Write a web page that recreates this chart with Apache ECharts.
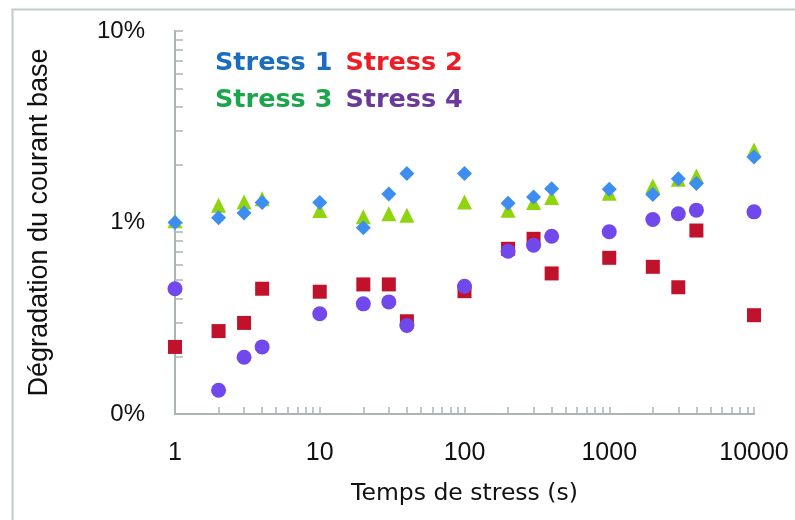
<!DOCTYPE html>
<html>
<head>
<meta charset="utf-8">
<script src="https://cdn.jsdelivr.net/npm/echarts@6/dist/echarts.min.js"></script>
<style>html,body{margin:0;padding:0;background:#fff}#c{width:795px;height:520px}</style>
</head>
<body>
<div id="c"></div>
<script>
const times = [1, 2, 3, 4, 10, 20, 30, 40, 100, 200, 300, 400, 1000, 2000, 3000, 4000, 10000];
const stress1 = [1.00, 1.06, 1.12, 1.27, 1.27, 0.94, 1.41, 1.80, 1.80, 1.26, 1.36, 1.50, 1.49, 1.40, 1.69, 1.60, 2.20];
const stress2 = [0.224, 0.271, 0.299, 0.451, 0.435, 0.475, 0.475, 0.305, 0.438, 0.729, 0.822, 0.542, 0.654, 0.587, 0.459, 0.908, 0.328];
const stress3 = [1.02, 1.23, 1.28, 1.33, 1.155, 1.07, 1.11, 1.09, 1.28, 1.16, 1.27, 1.35, 1.42, 1.55, 1.68, 1.75, 2.39];
const stress4 = [0.451, 0.133, 0.198, 0.224, 0.334, 0.376, 0.385, 0.290, 0.465, 0.708, 0.761, 0.848, 0.894, 1.037, 1.11, 1.16, 1.137];
const seriesNames = ['Stress 1', 'Stress 2', 'Stress 3', 'Stress 4'];
const yTickLabels = {'0.1': '0%', '1': '1%', '10': '10%'};
const xTitle = 'Temps de stress (s)';
const yTitle = 'Dégradation du courant base';

const xMinor = [];
for (let d = 1; d < 10000; d *= 10) for (let k = 1; k < 10; k++) xMinor.push(d * k);
xMinor.push(10000);
const yMinor = [];
for (let d = 0.1; d < 9; d *= 10) for (let k = 1; k < 10; k++) yMinor.push(+(d * k).toFixed(3));
yMinor.push(10);

const pair = arr => times.map((t, i) => [t, arr[i]]);
const axisCol = '#aab6b6';
const font = 'Liberation Sans, Arial, sans-serif';
const legFont = 'DejaVu Sans, sans-serif';

const chart = echarts.init(document.getElementById('c'), null, {renderer: 'canvas'});
chart.setOption({
  animation: false,
  backgroundColor: '#fff',
  graphic: [{
    type: 'rect', left: 10, top: 7, shape: {width: 820, height: 540},
    style: {fill: 'none', stroke: '#c3cbcb', lineWidth: 2}, silent: true, z: -1
  }],
  grid: {left: 175, right: 41, top: 31, bottom: 106},
  legend: [
    {left: 205, top: 45, icon: 'none', itemWidth: 0, itemGap: 8, selectedMode: false,
     textStyle: {fontSize: 25.5, fontWeight: 'bold', fontFamily: legFont},
     data: [{name: seriesNames[0], textStyle: {color: '#1b6dbf'}}, {name: seriesNames[1], textStyle: {color: '#ee1d25'}}]},
    {left: 205, top: 82, icon: 'none', itemWidth: 0, itemGap: 8, selectedMode: false,
     textStyle: {fontSize: 25.5, fontWeight: 'bold', fontFamily: legFont},
     data: [{name: seriesNames[2], textStyle: {color: '#1ca64b'}}, {name: seriesNames[3], textStyle: {color: '#6a3a98'}}]}
  ],
  xAxis: {
    type: 'log', logBase: 10, min: 1, max: 10000,
    name: xTitle, nameLocation: 'middle', nameGap: 68,
    nameTextStyle: {fontSize: 23.5, color: '#111', fontFamily: legFont},
    axisLine: {lineStyle: {color: axisCol, width: 2}},
    axisTick: {show: true, inside: true, length: 7, customValues: xMinor, lineStyle: {color: axisCol, width: 1.5}},
    axisLabel: {fontSize: 25, color: '#111', margin: 27, fontFamily: font,
      formatter: v => String(Math.round(v))},
    splitLine: {show: false}
  },
  yAxis: {
    type: 'log', logBase: 10, min: 0.1, max: 10,
    name: yTitle, nameLocation: 'middle', nameGap: 122,
    nameTextStyle: {fontSize: 27, color: '#111', fontFamily: font},
    axisLine: {lineStyle: {color: axisCol, width: 2}},
    axisTick: {show: true, inside: true, length: 8, customValues: yMinor, lineStyle: {color: axisCol, width: 1.5}},
    axisLabel: {fontSize: 24, color: '#111', margin: 30, fontFamily: font,
      formatter: v => yTickLabels[String(+v.toFixed(3))] || ''},
    splitLine: {show: false}
  },
  series: [
    {name: seriesNames[2], type: 'scatter', data: pair(stress3), symbol: 'triangle', symbolSize: 15, itemStyle: {color: '#8fd40c', opacity: 1}, z: 2},
    {name: seriesNames[0], type: 'scatter', data: pair(stress1), symbol: 'diamond', symbolSize: 15, itemStyle: {color: '#3d8ef0', opacity: 1}, z: 3},
    {name: seriesNames[1], type: 'scatter', data: pair(stress2), symbol: 'rect', symbolSize: 14, itemStyle: {color: '#c0122a', opacity: 1}, z: 2},
    {name: seriesNames[3], type: 'scatter', data: pair(stress4), symbol: 'circle', symbolSize: 15, itemStyle: {color: '#7048ec', opacity: 1}, z: 3}
  ]
});
</script>
</body>
</html>
